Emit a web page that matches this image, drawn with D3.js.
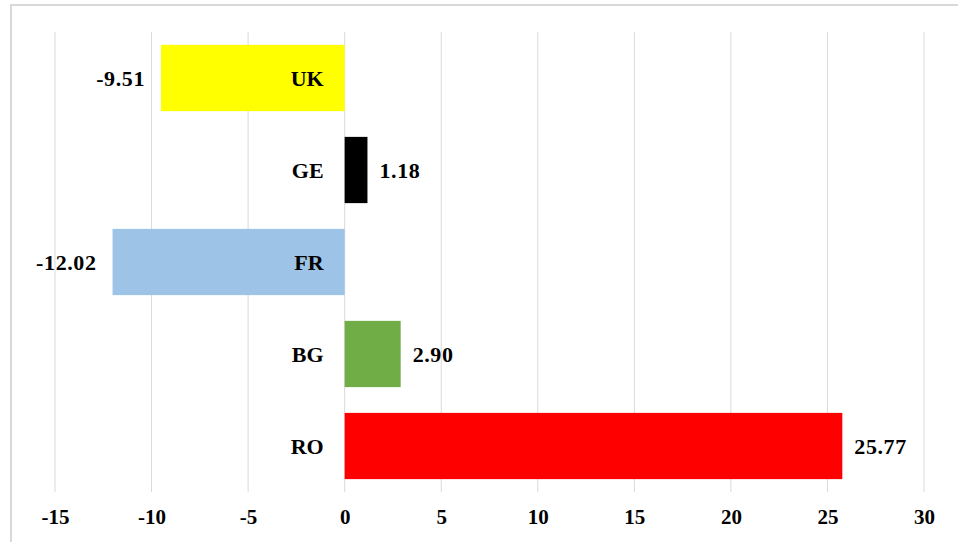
<!DOCTYPE html>
<html>
<head>
<meta charset="utf-8">
<script src="https://cdn.jsdelivr.net/npm/d3@7"></script>
<style>
  body { margin: 0; background: #fff; }
  svg { display: block; }
  text { font-family: "Liberation Serif", "Times New Roman", serif; font-weight: bold; fill: #000; }
</style>
</head>
<body>
<svg id="chart" width="958" height="542"></svg>
<script>
// Chart data
const countries = ['UK', 'GE', 'FR', 'BG', 'RO'];
const values = [-9.51, 1.18, -12.02, 2.90, 25.77];
const colors = ['#ffff00', '#000000', '#9dc3e6', '#70ad47', '#ff0000'];
const ticks = [-15, -10, -5, 0, 5, 10, 15, 20, 25, 30];

const svg = d3.select('#chart');

// Frame around the chart area
svg.append('path')
  .attr('d', 'M11,560 V5 H970')
  .attr('fill', 'none')
  .attr('stroke', '#d9d9d9')
  .attr('stroke-width', 2);

// Scales
const x = d3.scaleLinear()
  .domain([-15, 30])
  .range([55, 924]);

const y = d3.scaleBand()
  .domain(countries)
  .range([32, 492])
  .paddingInner(0.28)
  .paddingOuter(0.14);

// Gridlines
svg.append('g')
  .selectAll('line')
  .data(ticks)
  .enter()
  .append('line')
  .attr('x1', d => x(d))
  .attr('x2', d => x(d))
  .attr('y1', 32)
  .attr('y2', 492)
  .attr('stroke', '#d9d9d9')
  .attr('stroke-width', 1);

// Axis labels
const axis = d3.axisBottom(x)
  .tickValues(ticks)
  .tickSize(0)
  .tickPadding(0)
  .tickFormat(d => d);

svg.append('g')
  .attr('transform', 'translate(0,509)')
  .call(axis)
  .call(g => g.select('.domain').remove())
  .call(g => g.selectAll('text')
    .attr('font-size', 21)
    .attr('font-family', '"Liberation Serif", serif')
    .attr('font-weight', 'bold')
    .attr('fill', '#000'));

const data = countries.map((c, i) => ({ name: c, value: values[i], color: colors[i] }));

// Bars
svg.append('g')
  .selectAll('rect')
  .data(data)
  .enter()
  .append('rect')
  .attr('x', d => x(Math.min(0, d.value)))
  .attr('width', d => Math.abs(x(d.value) - x(0)))
  .attr('y', d => y(d.name))
  .attr('height', y.bandwidth())
  .attr('fill', d => d.color);

// Category labels, just left of zero
svg.append('g')
  .selectAll('text')
  .data(data)
  .enter()
  .append('text')
  .attr('x', x(0) - 21)
  .attr('y', d => y(d.name) + y.bandwidth() / 2)
  .attr('dy', '0.35em')
  .attr('text-anchor', 'end')
  .attr('font-size', 22)
  .text(d => d.name);

// Value labels at the bar ends
svg.append('g')
  .selectAll('text')
  .data(data)
  .enter()
  .append('text')
  .attr('x', d => d.value < 0 ? x(d.value) - 16 : x(d.value) + 12)
  .attr('y', d => y(d.name) + y.bandwidth() / 2)
  .attr('dy', '0.35em')
  .attr('text-anchor', d => d.value < 0 ? 'end' : 'start')
  .attr('font-size', 22)
  .attr('letter-spacing', '0.6px')
  .text(d => d.value.toFixed(2));
</script>
</body>
</html>
